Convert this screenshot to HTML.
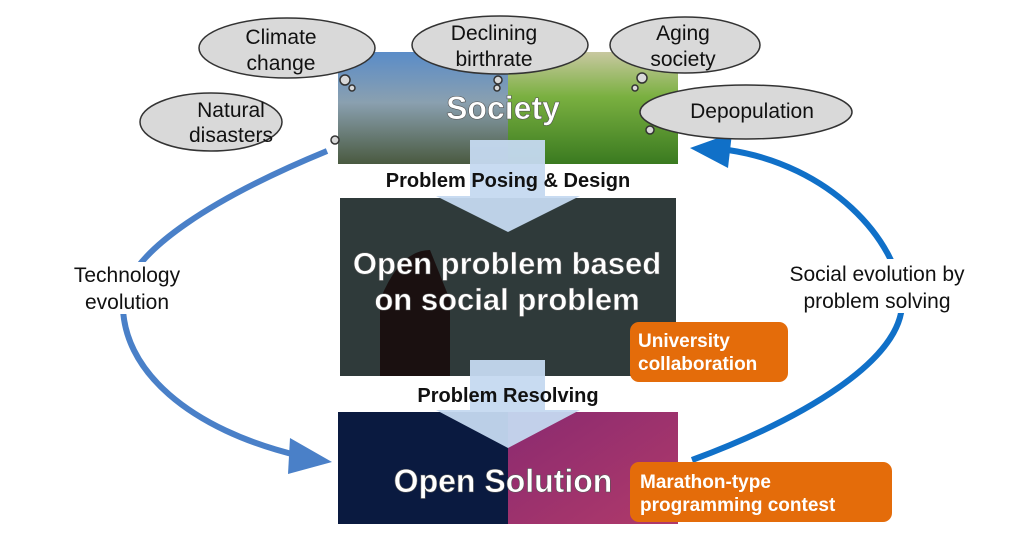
<!DOCTYPE html>
<html><head><style>
body{margin:0;width:1024px;height:543px;background:#fff;overflow:hidden;font-family:"Liberation Sans",sans-serif}
svg{position:absolute;left:0;top:0}
</style></head><body>
<svg width="1024" height="543" viewBox="0 0 1024 543">
<defs>
<linearGradient id="city" x1="0" y1="0" x2="0" y2="1"><stop offset="0" stop-color="#5a8cc8"/><stop offset="0.45" stop-color="#8aa0b0"/><stop offset="1" stop-color="#4a5a40"/></linearGradient>
<linearGradient id="green" x1="0" y1="0" x2="0" y2="1"><stop offset="0" stop-color="#c8c8a0"/><stop offset="0.4" stop-color="#7ab040"/><stop offset="1" stop-color="#3a7a20"/></linearGradient>
<linearGradient id="sol" x1="0" y1="0" x2="1" y2="1"><stop offset="0" stop-color="#8a2a70"/><stop offset="1" stop-color="#b03a6a"/></linearGradient>
</defs>
<rect x="338" y="52" width="170" height="112" fill="url(#city)"/>
<rect x="508" y="52" width="170" height="112" fill="url(#green)"/>
<rect x="340" y="198" width="336" height="178" fill="#2f3a3a"/>
<path d="M380 376 L380 300 Q400 250 430 250 L450 300 L450 376Z" fill="#1a1010"/>
<rect x="338" y="412" width="170" height="112" fill="#0a1a40"/>
<rect x="508" y="412" width="170" height="112" fill="url(#sol)"/>
<path d="M470 140 H545 V196 H580 L508 232 L436 196 H470Z" fill="#c5d9f0" opacity="0.95"/>
<path d="M470 360 H545 V410 H580 L508 448 L436 410 H470Z" fill="#c5d9f0" opacity="0.95"/>
<!-- side arcs -->
<path d="M327 151 C220 195 128 250 123 300 C120 370 190 430 300 456" fill="none" stroke="#4a80c8" stroke-width="6"/>
<path d="M290 438 L332 462 L288 474Z" fill="#4a80c8"/>
<path d="M692 460 C800 420 905 360 902 300 C898 240 830 165 728 150" fill="none" stroke="#1070c8" stroke-width="6"/>
<path d="M732 133 L690 148 L728 168Z" fill="#1070c8"/>
<rect x="60" y="262" width="136" height="52" fill="#fff"/>
<rect x="770" y="259" width="214" height="54" fill="#fff"/>
<!-- clouds -->
<g stroke="#333" stroke-width="1.5" fill="#d9d9d9">
<ellipse cx="287" cy="48" rx="88" ry="30"/>
<ellipse cx="500" cy="45" rx="88" ry="29"/>
<ellipse cx="685" cy="45" rx="75" ry="28"/>
<ellipse cx="211" cy="122" rx="71" ry="29"/>
<ellipse cx="746" cy="112" rx="106" ry="27"/>
<circle cx="345" cy="80" r="5"/><circle cx="352" cy="88" r="3"/>
<circle cx="498" cy="80" r="4"/><circle cx="497" cy="88" r="3"/>
<circle cx="642" cy="78" r="5"/><circle cx="635" cy="88" r="3"/>
<circle cx="335" cy="140" r="4"/>
<circle cx="650" cy="130" r="4"/>
</g>
<g font-size="21" fill="#111" text-anchor="middle">
<text x="281" y="44">Climate</text><text x="281" y="70">change</text>
<text x="494" y="40">Declining</text><text x="494" y="66">birthrate</text>
<text x="683" y="40">Aging</text><text x="683" y="66">society</text>
<text x="231" y="117">Natural</text><text x="231" y="142">disasters</text>
<text x="752" y="118">Depopulation</text>
<text x="127" y="282">Technology</text><text x="127" y="309">evolution</text>
<text x="877" y="281">Social evolution by</text><text x="877" y="308">problem solving</text>
</g>
<g font-weight="bold" fill="#111" text-anchor="middle" font-size="20">
<text x="508" y="187">Problem Posing &amp; Design</text>
<text x="508" y="402">Problem Resolving</text>
</g>
<g font-weight="bold" fill="#fff" text-anchor="middle" stroke="#555" stroke-width="0.6">
<text x="503" y="119" font-size="32">Society</text>
<text x="507" y="274" font-size="31">Open problem based</text>
<text x="507" y="310" font-size="31">on social problem</text>
<text x="503" y="492" font-size="32">Open Solution</text>
</g>
<rect x="630" y="322" width="158" height="60" rx="9" fill="#e46c0a"/>
<rect x="630" y="462" width="262" height="60" rx="9" fill="#e46c0a"/>
<g font-weight="bold" fill="#fff" font-size="19">
<text x="638" y="347">University</text><text x="638" y="370">collaboration</text>
<text x="640" y="488">Marathon-type</text><text x="640" y="511">programming contest</text>
</g>
</svg>
</body></html>
